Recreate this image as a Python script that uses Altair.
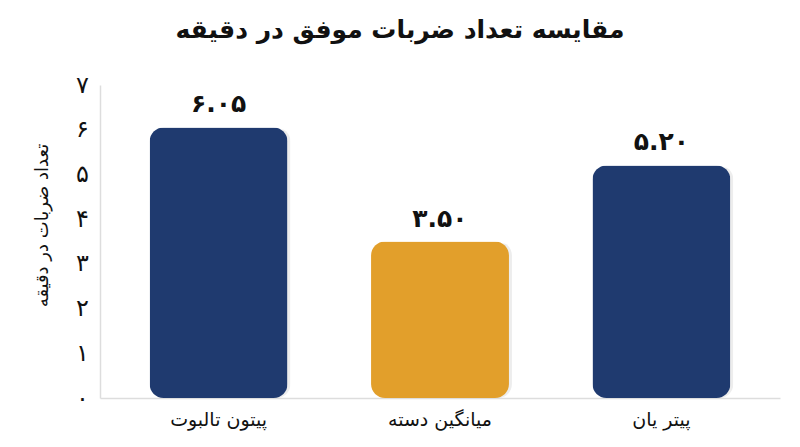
import altair as alt
import pandas as pd

categories = ["پیتون تالبوت", "میانگین دسته", "پیتر یان"]
values = [6.05, 3.50, 5.20]
value_labels = ["۶.۰۵", "۳.۵۰", "۵.۲۰"]
bar_colors = ["#1f3a6f", "#e29f2b", "#1f3a6f"]
tick_values = [0, 1, 2, 3, 4, 5, 6, 7]
tick_labels = ["۰", "۱", "۲", "۳", "۴", "۵", "۶", "۷"]

df = pd.DataFrame({"cat": categories, "val": values, "lab": value_labels})

FONT = "DejaVu Sans"
label_expr = "[" + ",".join("'%s'" % t for t in tick_labels) + "][datum.value]"

x_enc = alt.X("cat:N", sort=categories,
              scale=alt.Scale(paddingInner=0.377, paddingOuter=0.224),
              axis=alt.Axis(title=None, labelAngle=0, labelFontSize=19, labelFont=FONT,
                            labelColor="#111", labelPadding=12, ticks=False,
                            domainColor="#dddddd", domainWidth=1.5))
y_enc = alt.Y("val:Q", scale=alt.Scale(domain=[0, 7], nice=False),
              axis=alt.Axis(title="تعداد ضربات در دقیقه", titleFont=FONT, titleFontSize=18,
                            titleFontWeight="normal", titleColor="#111", titlePadding=24,
                            titleY=140,
                            values=tick_values, labelExpr=label_expr, labelFontSize=24,
                            labelFont=FONT, labelColor="#111", labelPadding=18,
                            labelAlign="center", ticks=False, grid=False,
                            domainColor="#dddddd", domainWidth=1.5))

shadow = alt.Chart(df).mark_bar(cornerRadius=14, color="#000000", opacity=0.07,
                                xOffset=3, yOffset=2).encode(x=x_enc, y=y_enc)

bars = alt.Chart(df).mark_bar(cornerRadius=14).encode(
    x=x_enc, y=y_enc,
    color=alt.Color("cat:N", scale=alt.Scale(domain=categories, range=bar_colors), legend=None),
)

text = alt.Chart(df).mark_text(baseline="bottom", dy=-10, fontSize=25, font=FONT,
                               fontWeight="bold", color="#111").encode(
    x=alt.X("cat:N", sort=categories), y="val:Q", text="lab:N")

chart = alt.layer(shadow, bars, text).properties(
    width=680, height=313,
    background="white",
    title=alt.TitleParams("مقایسه تعداد ضربات موفق در دقیقه", font=FONT, fontSize=25,
                          fontWeight="bold", color="#111", anchor="middle", dx=-40, offset=30),
    autosize=alt.AutoSizeParams(type="none"),
    padding={"left": 92, "top": 77, "right": 12, "bottom": 41},
).configure_view(strokeWidth=0, stroke="transparent")

chart.save("out.html", embed_options={"renderer": "svg", "actions": False})
